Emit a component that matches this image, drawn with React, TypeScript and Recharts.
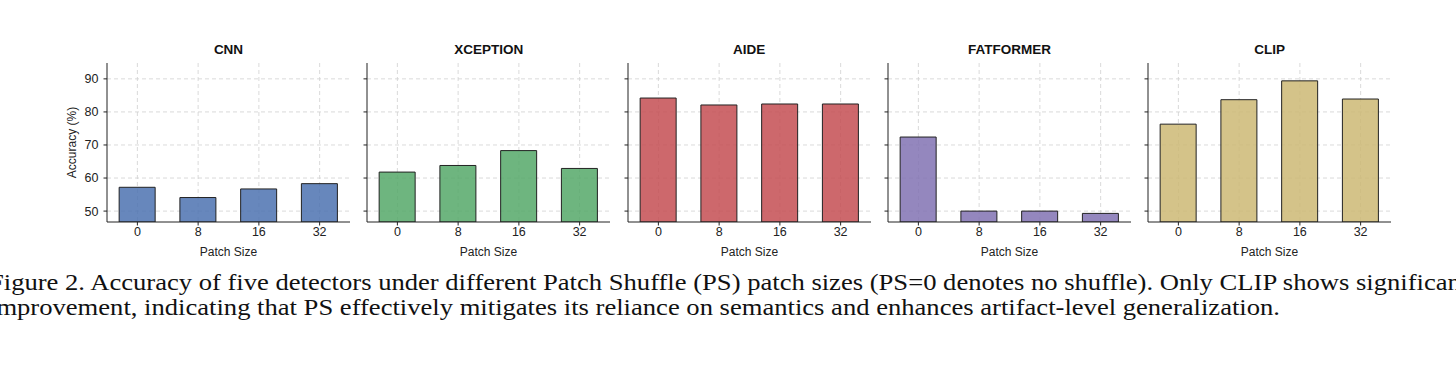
import React from 'react'
import { Bar, BarChart, CartesianGrid, XAxis, YAxis } from 'recharts'

const patchSizes = ['0', '8', '16', '32']
const detectors = ['CNN', 'XCEPTION', 'AIDE', 'FATFORMER', 'CLIP']
const detectorColors = ['#4C72B0', '#55A868', '#C44E52', '#8172B3', '#CCB974']

const cnnAcc = [57.2, 54.1, 56.7, 58.3]
const xceptionAcc = [61.8, 63.8, 68.3, 62.9]
const aideAcc = [84.2, 82.1, 82.4, 82.4]
const fatformerAcc = [72.4, 50.0, 50.0, 49.3]
const clipAcc = [76.3, 83.7, 89.4, 83.9]

const yTicks = [50, 60, 70, 80, 90]

const seriesByDetector = [cnnAcc, xceptionAcc, aideAcc, fatformerAcc, clipAcc]

const caption = [
  'Figure 2. Accuracy of five detectors under different Patch Shuffle (PS) patch sizes (PS=0 denotes no shuffle). Only CLIP shows significant',
  'improvement, indicating that PS effectively mitigates its reliance on semantics and enhances artifact-level generalization.',
]

const FONT = '"Liberation Sans", Arial, sans-serif'

function Panel({ index }: { index: number }) {
  const data = patchSizes.map((p, i) => ({ size: p, acc: seriesByDetector[index][i] }))
  const plotLeft = 107 + 260.3 * index
  const first = index === 0
  return (
    <div style={{ position: 'absolute', left: plotLeft - 50, top: 30 }}>
      <div
        style={{
          position: 'absolute',
          left: 50,
          width: 243,
          top: 12,
          textAlign: 'center',
          fontFamily: FONT,
          fontWeight: 'bold',
          fontSize: 13.5,
          color: '#111',
        }}
      >
        {detectors[index]}
      </div>
      <BarChart
        width={298}
        height={232}
        data={data}
        margin={{ top: 33, right: 5, bottom: 0, left: 10 }}
        barCategoryGap="20%"
      >
        <CartesianGrid stroke="#d0d0d0" strokeDasharray="4 3" strokeWidth={0.8} syncWithTicks />
        <XAxis
          dataKey="size"
          height={40}
          tickSize={3.5}
          tickMargin={2}
          stroke="#222"
          tick={{ fill: '#222', fontSize: 12.5, fontFamily: FONT }}
          label={{ value: 'Patch Size', position: 'insideBottom', offset: 6, fill: '#222', fontSize: 12, fontFamily: FONT }}
        />
        <YAxis
          width={40}
          domain={[46.7, 94.8]}
          ticks={yTicks}
          allowDataOverflow
          tickSize={3.5}
          tickMargin={5}
          stroke="#222"
          tickFormatter={(v) => (first ? String(v) : '')}
          tick={{ fill: '#222', fontSize: 12.5, fontFamily: FONT }}
          label={
            first
              ? { value: 'Accuracy (%)', angle: -90, position: 'insideLeft', offset: 5, fill: '#222', fontSize: 12, fontFamily: FONT, style: { textAnchor: 'middle' } }
              : undefined
          }
        />
        <Bar
          dataKey="acc"
          fill={detectorColors[index]}
          fillOpacity={0.85}
          stroke="#222"
          strokeWidth={1}
          isAnimationActive={false}
        />
      </BarChart>
    </div>
  )
}

export default function App() {
  return (
    <div
      style={{
        position: 'absolute',
        left: 0,
        top: 0,
        width: 1456,
        height: 389,
        overflow: 'hidden',
        background: '#fff',
      }}
    >
      {detectors.map((d, i) => (
        <Panel key={d} index={i} />
      ))}
      <div
        style={{
          position: 'absolute',
          left: -11,
          top: 270,
          width: 1700,
          fontFamily: '"Liberation Serif", "Times New Roman", serif',
          fontSize: 24,
          lineHeight: '25px',
          color: '#111',
          whiteSpace: 'nowrap',
          transform: 'scaleX(1.108)',
          transformOrigin: 'left top',
        }}
      >
        {caption.map((line) => (
          <div key={line}>{line}</div>
        ))}
      </div>
    </div>
  )
}
